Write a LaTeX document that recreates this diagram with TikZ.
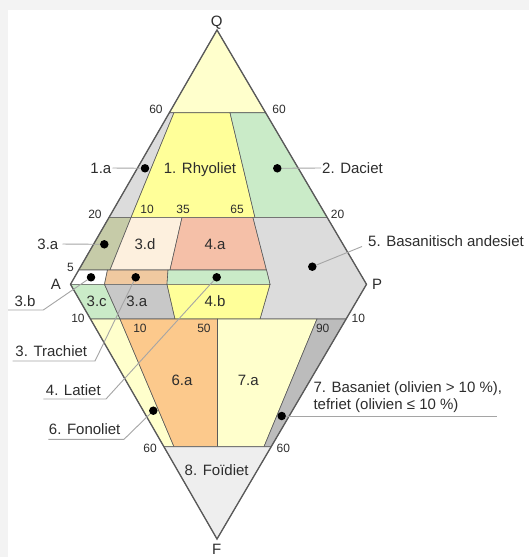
\documentclass[tikz,border=0pt]{standalone}
\usepackage{fontspec}
\setmainfont{Liberation Sans}
\usepackage{tikz}
\usetikzlibrary{calc,positioning}
\definecolor{framegray}{RGB}{243,243,243}
\definecolor{edgegray}{RGB}{90,90,90}
\definecolor{inkgray}{RGB}{45,45,45}
\definecolor{leadgray}{RGB}{165,165,165}
\definecolor{paleyellow}{RGB}{255,255,204}
\definecolor{rhyoyellow}{RGB}{255,255,153}
\definecolor{stonegray}{RGB}{220,220,220}
\definecolor{mintgreen}{RGB}{202,235,200}
\definecolor{olivegray}{RGB}{198,203,168}
\definecolor{creampeach}{RGB}{253,240,222}
\definecolor{salmonred}{RGB}{245,192,168}
\definecolor{trachytan}{RGB}{240,201,160}
\definecolor{midgray}{RGB}{200,200,200}
\definecolor{foidorange}{RGB}{252,201,140}
\definecolor{stripgray}{RGB}{188,188,188}
\definecolor{foidgray}{RGB}{238,238,238}

\begin{document}
\begin{tikzpicture}[x=1pt, y=-1pt, font=\fontsize{15}{17}\selectfont, text=inkgray,
    zone/.style={draw=edgegray, line width=0.6pt, line join=round},
    blackdot/.style={circle, fill=black, inner sep=0pt, minimum size=8.5pt},
    leader/.style={draw=leadgray, line width=0.9pt},
    lbl/.style={inner sep=0pt, text height=10.7pt, text depth=0pt},
    num/.style={lbl, font=\fontsize{12}{14}\selectfont, text height=8.6pt}]
    \useasboundingbox (0,0) rectangle (529,557);
    \fill[framegray] (0,0) rectangle (529,557);
    \fill[white] (8,10) rectangle (529,557);

    \coordinate (Q) at (217,30);
    \coordinate (A) at (70.5,284.3);
    \coordinate (P) at (366.5,284.3);
    \coordinate (F) at (217,539);
    \coordinate (u60l) at (169.4,112.7);
    \coordinate (u60r) at (265.6,112.7);
    \coordinate (u20l) at (108.9,217.6);
    \coordinate (u20r) at (327.3,217.6);
    \coordinate (u5l) at (78.7,270);
    \coordinate (l10l) at (90.5,319);
    \coordinate (l10r) at (346.1,319);
    \coordinate (l60l) at (163.9,446.7);
    \coordinate (l60r) at (271.2,446.7);

    % upper triangle Q-A-P
    \filldraw[zone, fill=paleyellow] (Q) -- (u60l) -- (u60r) -- cycle;
    \filldraw[zone, fill=stonegray] (u60l) -- (174,112.7) -- (131,217.6) -- (u20l) -- cycle;
    \filldraw[zone, fill=rhyoyellow] (174,112.7) -- (230,112.7) -- (255,217.6) -- (131,217.6) -- cycle;
    \filldraw[zone, fill=mintgreen] (230,112.7) -- (u60r) -- (u20r) -- (255,217.6) -- cycle;
    \filldraw[zone, fill=olivegray] (u20l) -- (131,217.6) -- (110,270) -- (u5l) -- cycle;
    \filldraw[zone, fill=creampeach] (131,217.6) -- (182,217.6) -- (170,270) -- (110,270) -- cycle;
    \filldraw[zone, fill=salmonred] (182,217.6) -- (253,217.6) -- (266.5,270) -- (170,270) -- cycle;
    \filldraw[zone, fill=stonegray] (253,217.6) -- (u20r) -- (P) -- (l10r) -- (260,319) -- (270,284.3) -- (266.5,270) -- cycle;
    \filldraw[zone, fill=white] (u5l) -- (107.5,270) -- (104.5,284.3) -- (A) -- cycle;
    \filldraw[zone, fill=trachytan] (107.5,270) -- (168,270) -- (167,284.3) -- (104.5,284.3) -- cycle;
    \filldraw[zone, fill=mintgreen] (168,270) -- (266.5,270) -- (270,284.3) -- (167,284.3) -- cycle;
    \filldraw[zone, fill=mintgreen] (A) -- (104.5,284.3) -- (120,319) -- (l10l) -- cycle;
    \filldraw[zone, fill=midgray] (104.5,284.3) -- (167,284.3) -- (175,319) -- (120,319) -- cycle;
    \filldraw[zone, fill=rhyoyellow] (167,284.3) -- (270,284.3) -- (260,319) -- (175,319) -- cycle;
    % lower triangle A-P-F
    \filldraw[zone, fill=paleyellow] (l10l) -- (120,319) -- (174,446.7) -- (l60l) -- cycle;
    \filldraw[zone, fill=foidorange] (120,319) -- (217.5,319) -- (217.5,446.7) -- (174,446.7) -- cycle;
    \filldraw[zone, fill=paleyellow] (217.5,319) -- (317,319) -- (264,446.7) -- (217.5,446.7) -- cycle;
    \filldraw[zone, fill=stripgray] (317,319) -- (l10r) -- (l60r) -- (264,446.7) -- cycle;
    \filldraw[zone, fill=foidgray] (l60l) -- (l60r) -- (F) -- cycle;
    \draw[edgegray, line width=1.3pt, line join=miter] (Q) -- (A) -- (F) -- (P) -- cycle;

    \node[lbl] (cQ) at (216.7,20.7) {Q};
    \node[lbl] (cA) at (56,284.3) {A};
    \node[lbl] (cP) at (377,284.3) {P};
    \node[lbl] (cF) at (216.7,549) {F};

    \foreach \x/\y/\t [count=\k] in {156/109/60, 279/109/60, 95/214.5/20, 337.5/214.5/20,
        147/209.5/10, 183/209.5/35, 237/209.5/65, 70.5/267.5/5, 78/318.3/10, 358.3/318.3/10,
        140/328.3/10, 204/328.3/50, 322.7/328.3/90, 150/448.3/60, 283.3/448.3/60}
      \node[num] (num\k) at (\x,\y) {\t};

    \node[lbl] (rhyo) at (200,168) {1. Rhyoliet};
    \node[lbl] (f3d) at (145,244) {3.d};
    \node[lbl] (f4a) at (215,244) {4.a};
    \node[lbl] (f3c) at (96.7,300.7) {3.c};
    \node[lbl] (f3alow) at (136.7,300.7) {3.a};
    \node[lbl] (f4b) at (215,300.7) {4.b};
    \node[lbl] (f6a) at (182,380) {6.a};
    \node[lbl] (f7a) at (248.3,380) {7.a};
    \node[lbl] (foid) at (216.7,470) {8. Foïdiet};

    \node[blackdot] (dot1a) at (145,168.3) {};
    \node[blackdot] (dot2) at (277.3,168.3) {};
    \node[blackdot] (dot3a) at (104.3,244.3) {};
    \node[blackdot] (dot5) at (312.3,266.7) {};
    \node[blackdot] (dot3b) at (91,277.3) {};
    \node[blackdot] (dot3) at (135.7,277.3) {};
    \node[blackdot] (dot4) at (216.7,277.3) {};
    \node[blackdot] (dot6) at (153.3,410.7) {};
    \node[blackdot] (dot7) at (281.7,416) {};

    \node[lbl, anchor=east] (lb1a) at (111.5,168) {1.a};
    \node[lbl, anchor=west] (lb2) at (322,168) {2. Daciet};
    \node[lbl, anchor=east] (lb3a) at (58.5,244) {3.a};
    \node[lbl, anchor=west] (lb5) at (368,241) {5. Basanitisch andesiet};
    \node[lbl] (lb3b) at (25,300.7) {3.b};
    \node[lbl] (lb3) at (51.3,351) {3. Trachiet};
    \node[lbl] (lb4) at (73.3,390) {4. Latiet};
    \node[lbl] (lb6) at (84.7,429.3) {6. Fonoliet};
    \node[lbl, anchor=base west] (lb7a) at (313.3,392.8) {7. Basaniet (olivien > 10 \%),};
    \node[lbl, anchor=base west] (lb7b) at (313.3,409.8) {tefriet (olivien ≤ 10 \%)};

    \coordinate (e5) at (362,246.5);
    \coordinate (u3bs) at (8,310);
    \coordinate (u3be) at (43.3,310);
    \coordinate (u3s) at (12.7,361);
    \coordinate (u3e) at (95,361);
    \coordinate (u4s) at (43.3,399);
    \coordinate (u4e) at (106,399);
    \coordinate (u6s) at (48.3,439.3);
    \coordinate (u6e) at (124,439.3);
    \coordinate (u7e) at (496.7,416);

    \draw[leader, shorten <=1pt] (lb1a.east) -- (dot1a);
    \draw[leader, shorten <=1pt] (lb2.west) -- (dot2);
    \draw[leader, shorten <=4pt] (lb3a.east) -- (dot3a);
    \draw[leader] (e5) -- (dot5);
    \draw[leader] (u3bs) -- (u3be) -- (dot3b);
    \draw[leader] (u3s) -- (u3e) -- (dot3);
    \draw[leader] (u4s) -- (u4e) -- (dot4);
    \draw[leader] (u6s) -- (u6e) -- (dot6);
    \draw[leader] (u7e) -- (dot7);
\end{tikzpicture}
\end{document}
